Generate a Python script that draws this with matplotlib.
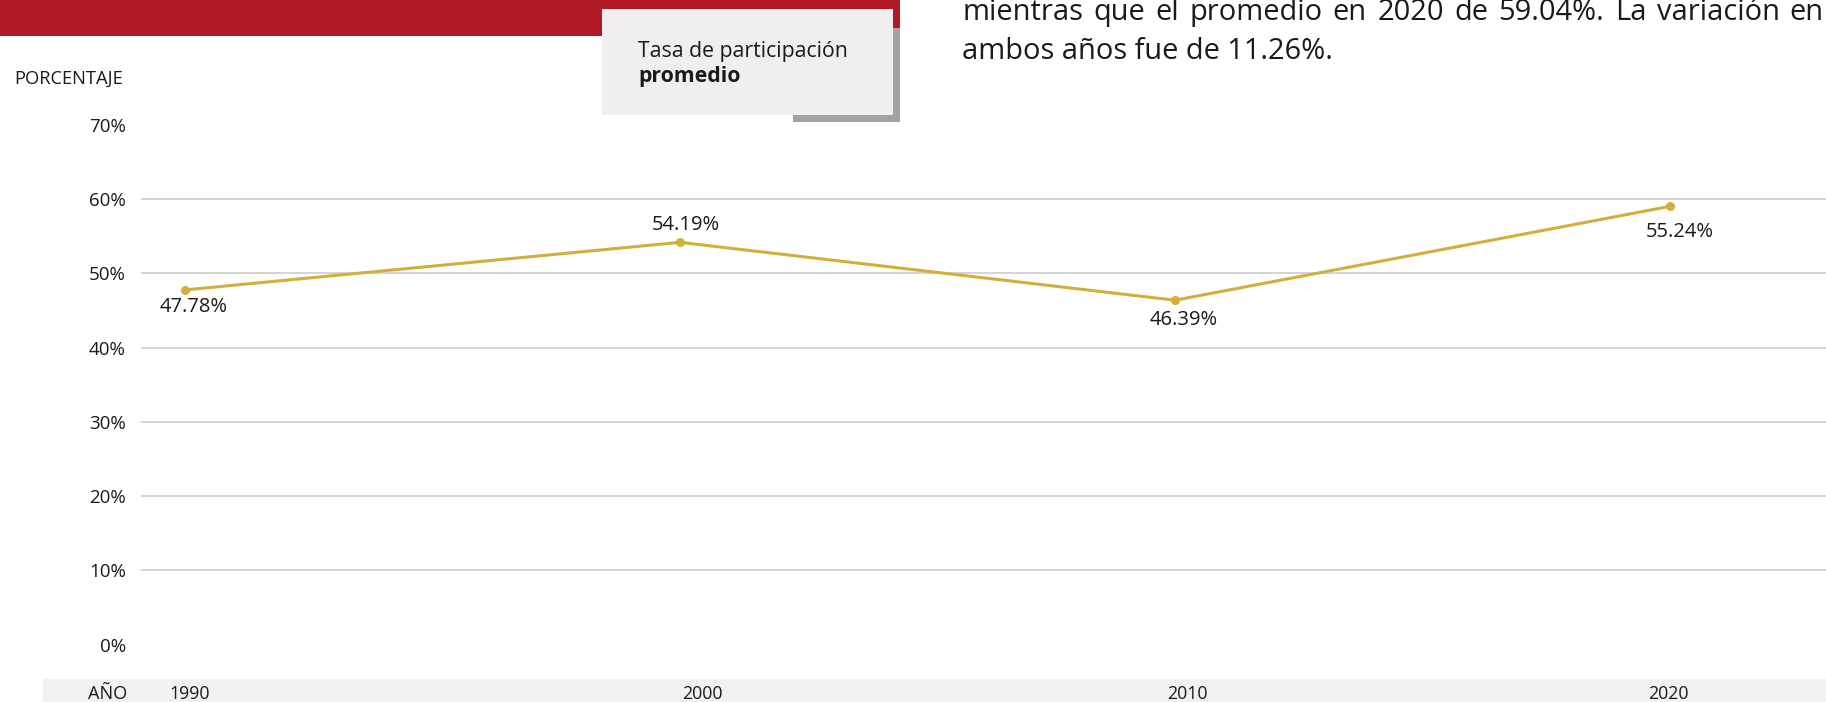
import matplotlib
matplotlib.use("Agg")
import matplotlib.pyplot as plt
from matplotlib.patches import Rectangle

plt.rcParams['font.family'] = ['Open Sans', 'DejaVu Sans']

# ---- data ----
years = ["1990", "2000", "2010", "2020"]
values = [47.78, 54.19, 46.39, 59.04]
value_labels = ["47.78%", "54.19%", "46.39%", "55.24%"]
y_ticks = [0, 10, 20, 30, 40, 50, 60, 70]
y_tick_labels = ["0%", "10%", "20%", "30%", "40%", "50%", "60%", "70%"]
grid_values = [10, 20, 30, 40, 50, 60]
legend_line1 = "Tasa de participación"
legend_line2 = "promedio"
y_title = "PORCENTAJE"
x_title = "AÑO"
note_line1 = "mientras que el promedio en 2020 de 59.04%. La variación en"
note_line2 = "ambos años fue de 11.26%."

# ---- layout ----
W, H = 1826, 702
DPI = 100
fig = plt.figure(figsize=(W / DPI, H / DPI), dpi=DPI)
fig.patch.set_facecolor("white")


def fx(px):
    return px / W


def fy(py):
    return 1 - py / H


LINE_COLOR = "#d4ae3c"
GRID_COLOR = "#d4d4d4"
TEXT_COLOR = "#1a1a1a"
RED = "#b01926"

ax_left, ax_right = 141, 1826
ax_top, ax_bottom = 125, 644.5
ax = fig.add_axes([fx(ax_left), fy(ax_bottom), (ax_right - ax_left) / W,
                   (ax_bottom - ax_top) / H])
ax.set_facecolor("none")
xs = list(range(len(years)))
step = 495.0
ax.set_xlim((ax_left - 185) / step, (ax_right - 185) / step)
ax.set_ylim(0, 70)

for g in grid_values:
    ax.axhline(g, color=GRID_COLOR, lw=1.4, zorder=1)

ax.plot(xs, values, color=LINE_COLOR, lw=2.2, marker="o", markersize=5.5,
        zorder=3, solid_capstyle="round")

# value labels: offsets in points (dx, dy)
label_offsets = [(6.5, -12), (4.5, 12.7), (6.3, -14.6), (7, -18.7)]
for x, v, lab, (dx, dy) in zip(xs, values, value_labels, label_offsets):
    ax.annotate(lab, (x, v), xytext=(dx, dy), textcoords="offset points",
                ha="center", va="center", fontsize=14.5, color=TEXT_COLOR, zorder=4)

ax.set_yticks(y_ticks)
ax.set_yticklabels(y_tick_labels, fontsize=13.5, color=TEXT_COLOR)
ax.tick_params(axis="y", length=0, pad=11)
ax.set_xticks([])
for s in ax.spines.values():
    s.set_visible(False)

# y title
fig.text(fx(14), fy(84), y_title, fontsize=13.2, color=TEXT_COLOR,
         ha="left", va="baseline")

# bottom band with years
band = fig.add_axes([fx(43), 0, (W - 43) / W, (H - 679) / H])
band.set_facecolor("#f1f1ef")
band.set_xticks([]); band.set_yticks([])
for s in band.spines.values():
    s.set_visible(False)
fig.text(fx(108), fy(699), x_title, fontsize=13.1, color=TEXT_COLOR,
         ha="center", va="baseline")
year_label_px = [190, 702, 1187, 1668]
for yl, px in zip(years, year_label_px):
    fig.text(fx(px), fy(699), yl, fontsize=12.8, color=TEXT_COLOR,
             ha="center", va="baseline")

# red header bar
fig.patches.append(Rectangle((0, fy(36)), fx(900), 36 / H, transform=fig.transFigure,
                             facecolor=RED, edgecolor="none", zorder=5))
# legend shadow
fig.patches.append(Rectangle((fx(793), fy(122)), fx(900 - 793), (122 - 28) / H,
                             transform=fig.transFigure, facecolor="#a2a2a2",
                             edgecolor="none", zorder=6))
# legend box
fig.patches.append(Rectangle((fx(602), fy(115)), fx(893 - 602), (115 - 9) / H,
                             transform=fig.transFigure, facecolor="#efefed",
                             edgecolor="none", zorder=7))
fig.text(fx(638), fy(57), legend_line1, fontsize=15.3, color=TEXT_COLOR,
         ha="left", va="baseline", zorder=8)
fig.text(fx(638), fy(82), legend_line2, fontsize=15.3, color=TEXT_COLOR,
         fontweight="bold", ha="left", va="baseline", zorder=8)

# note text top right (first line justified)
NOTE_FS = 20.9
note_left, note_right = 962, 1824
renderer = fig.canvas.get_renderer()
words = note_line1.split(" ")
word_artists = []
widths = []
for w in words:
    t = fig.text(0, fy(20), w, fontsize=NOTE_FS, color=TEXT_COLOR,
                 ha="left", va="baseline")
    word_artists.append(t)
    widths.append(t.get_window_extent(renderer).width)
probe1 = fig.text(0, 0, "a a", fontsize=NOTE_FS)
probe2 = fig.text(0, 0, "aa", fontsize=NOTE_FS)
space_w = probe1.get_window_extent(renderer).width - probe2.get_window_extent(renderer).width
probe1.remove()
probe2.remove()
total = sum(widths)
gap = (note_right - note_left - total) / (len(words) - 1)
if gap < space_w * 0.8:
    gap = space_w
xcur = note_left
for t, wd in zip(word_artists, widths):
    t.set_x(fx(xcur))
    xcur += wd + gap
fig.text(fx(note_left), fy(59), note_line2, fontsize=NOTE_FS, color=TEXT_COLOR,
         ha="left", va="baseline")

fig.savefig("out.png", dpi=DPI)
